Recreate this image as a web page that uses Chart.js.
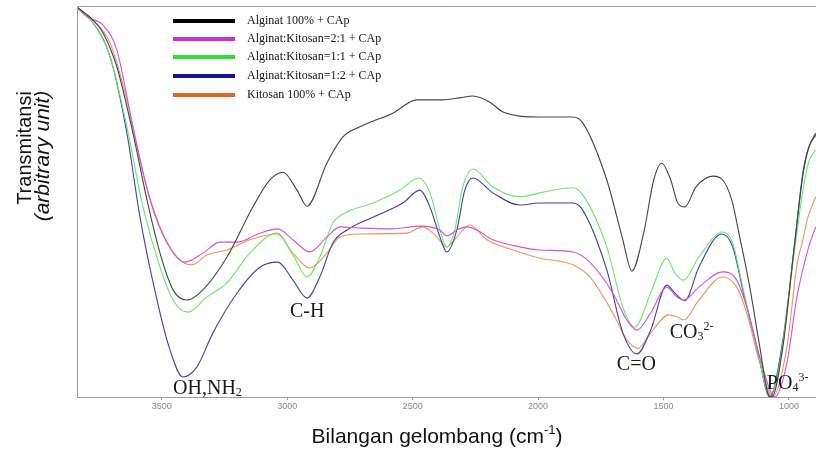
<!DOCTYPE html>
<html><head><meta charset="utf-8">
<script src="https://cdn.jsdelivr.net/npm/chart.js@4.4.1/dist/chart.umd.min.js"></script>
<style>html,body{margin:0;padding:0;background:#fff;overflow:hidden}</style>
</head><body>
<canvas id="c" width="816" height="449"></canvas>
<script>
// ---- data (wavenumber cm-1, transmittance arbitrary 0-100) ----
const seriesLabels = ['Alginat 100% + CAp','Alginat:Kitosan=2:1 + CAp','Alginat:Kitosan=1:1 + CAp','Alginat:Kitosan=1:2 + CAp','Kitosan 100% + CAp'];
const xTicks = [3500,3000,2500,2000,1500,1000];

const alginatX = [3838,3774,3734,3679,3615,3559,3507,3455,3400,3336,3240,3137,3069,3017,2961,2921,2842,2778,2710,2579,2483,2379,2312,2260,2192,2140,1993,1861,1822,1726,1662,1626,1579,1539,1507,1471,1443,1415,1371,1303,1264,1228,1196,1156,1116,1084,1068,1024,980,944,921,893];
const alginatY = [99.7,96.4,93.1,84.4,67.5,50.4,36.8,27.4,24.8,27.4,35.8,48.6,55.5,57.5,52.9,48.8,59.8,66.5,69.1,72.6,76.0,76.0,76.5,77.0,75.4,72.9,71.6,71.6,70.1,55.5,40.2,32.2,41.9,55.5,59.8,55.5,49.6,48.6,53.7,56.5,55.5,50.4,40.9,28.1,12.8,1.0,0,12.8,37.6,56.8,63.7,67.5];

const ak21X = [3838,3798,3734,3679,3615,3547,3479,3408,3336,3268,3200,3109,3037,2977,2910,2842,2790,2710,2579,2471,2391,2364,2324,2284,2244,2180,2073,1993,1861,1794,1702,1646,1606,1551,1487,1447,1419,1359,1264,1208,1168,1116,1056,1008,968,921,893];
const ak21Y = [99.7,97.2,95.1,88.7,69.1,50.4,39.4,34.5,36.8,39.6,39.6,41.9,43.0,40.2,37.1,40.9,43.5,43.2,43.0,43.7,42.7,41.2,42.7,43.5,42.7,40.2,38.4,37.6,37.1,34.5,26.6,19.7,17.1,21.5,28.1,25.6,24.8,28.1,32.0,29.9,23.0,10.2,0,8.7,25.6,38.4,43.5];

const ak11X = [3838,3774,3706,3639,3575,3507,3455,3396,3320,3240,3149,3041,2977,2921,2870,2818,2762,2658,2551,2475,2431,2391,2364,2332,2300,2260,2180,2073,1993,1861,1822,1726,1662,1614,1551,1487,1455,1419,1359,1264,1224,1184,1128,1076,1036,984,944,921,893];
const ak11Y = [99.7,95.7,87.0,69.1,48.6,33.2,24.8,21.7,25.6,29.2,36.8,41.9,36.3,30.7,35.8,44.5,47.3,49.6,52.9,56.0,52.2,42.7,38.4,42.7,53.7,58.3,53.7,51.2,52.2,53.5,51.7,38.4,23.0,17.9,26.6,35.5,31.7,29.9,35.8,42.2,39.4,28.1,12.8,0.5,8.7,34.3,52.9,60.1,63.2];

const ak12X = [3838,3774,3706,3639,3587,3519,3467,3416,3360,3296,3200,3109,3037,2977,2921,2870,2818,2762,2658,2539,2471,2431,2391,2364,2324,2292,2260,2180,2073,1993,1861,1822,1726,1662,1606,1551,1487,1455,1415,1359,1268,1224,1184,1128,1076,1024,980,944,921,893];
const ak12Y = [99.7,95.7,87.0,67.5,46.0,24.8,12.0,5.1,7.7,16.4,26.6,33.2,34.5,29.9,25.3,30.7,39.4,42.7,46.0,49.6,52.9,48.6,40.9,37.1,42.7,52.9,56.0,52.2,49.1,49.6,49.6,47.8,32.5,16.4,11.0,17.1,28.6,26.6,24.6,33.2,41.7,38.4,27.4,12.8,0,14.6,37.6,57.5,63.9,67.0];

const kitosanX = [3838,3774,3706,3639,3575,3507,3439,3380,3320,3240,3149,3041,2977,2910,2842,2790,2710,2523,2459,2403,2364,2324,2272,2204,2100,1993,1861,1794,1702,1646,1602,1551,1479,1447,1419,1359,1264,1208,1168,1116,1064,1008,968,944,925,893];
const kitosanY = [99.7,96.4,90.5,76.0,57.3,43.5,35.8,33.8,36.3,37.6,40.2,41.7,36.8,33.0,36.8,40.9,41.7,41.9,43.5,40.9,38.4,40.9,44.0,40.2,37.6,35.5,33.8,30.7,21.5,14.6,12.5,16.4,21.0,20.5,19.7,24.8,30.7,28.1,21.5,8.7,0,12.8,33.8,40.2,45.8,51.2];

const lineColors = ['#444444','#d452d4','#66e866','#4040aa','#ee9458'];
const legendColors = ['#000000','#cc33cc','#33dd33','#14149a','#e0652a'];

// ---- build ----
const xs = [alginatX, ak21X, ak11X, ak12X, kitosanX];
const ys = [alginatY, ak21Y, ak11Y, ak12Y, kitosanY];
const datasets = seriesLabels.map((lab,i)=>({
  label: lab,
  data: xs[i].map((x,j)=>({x:x, y:ys[i][j]})),
  borderColor: lineColors[i],
  borderWidth: 1.1,
  pointRadius: 0,
  fill: false,
  cubicInterpolationMode: 'monotone'
}));

const SERIF = '"Liberation Serif","Times New Roman",serif';
const SANS = '"Liberation Sans",Arial,sans-serif';

function drawChem(ctx, x, y, parts, size){
  let cx = x;
  parts.forEach(p=>{
    let fs = size, dy = 0;
    if (p.sub){ fs = Math.round(size*0.62); dy = 2; }
    if (p.sup){ fs = Math.round(size*0.62); dy = -8; }
    ctx.font = fs + 'px ' + SERIF;
    ctx.fillText(p.t, cx, y + dy);
    cx += ctx.measureText(p.t).width;
  });
}

const decor = {
  id: 'decor',
  afterDraw(chart){
    const ctx = chart.ctx, a = chart.chartArea;
    const sx = chart.scales.x, sy = chart.scales.y;
    ctx.save();
    // frame left/top
    ctx.strokeStyle = '#9a9a9a'; ctx.lineWidth = 1;
    ctx.beginPath();
    ctx.moveTo(a.left+0.5, a.bottom); ctx.lineTo(a.left+0.5, a.top+0.5); ctx.lineTo(a.right, a.top+0.5);
    ctx.stroke();

    // legend
    ctx.textAlign = 'left'; ctx.textBaseline = 'middle';
    ctx.font = '12px ' + SERIF; ctx.fillStyle = '#111';
    const rows = [21, 39, 57, 76, 95];
    chart.data.datasets.forEach((d,i)=>{
      ctx.strokeStyle = legendColors[i]; ctx.lineWidth = 4;
      ctx.beginPath(); ctx.moveTo(173, rows[i]); ctx.lineTo(235, rows[i]); ctx.stroke();
      ctx.fillText(d.label, 247, rows[i]);
    });

    // peak annotations (anchored to data coordinates)
    ctx.textBaseline = 'alphabetic'; ctx.fillStyle = '#1a1a1a';
    const notes = [
      {x:3455, y:0.8,  parts:[{t:'OH,NH'},{t:'2',sub:true}]},
      {x:2989, y:20.5, parts:[{t:'C-H'}]},
      {x:1686, y:6.9,  parts:[{t:'C=O'}]},
      {x:1475, y:15.1, parts:[{t:'CO'},{t:'3',sub:true},{t:'2-',sup:true}]},
      {x:1088, y:2.0,  parts:[{t:'PO'},{t:'4',sub:true},{t:'3-',sup:true}]}
    ];
    notes.forEach(n=> drawChem(ctx, sx.getPixelForValue(n.x), sy.getPixelForValue(n.y), n.parts, 20));

    // x title
    ctx.fillStyle = '#111';
    ctx.font = '21px ' + SANS;
    const t1 = 'Bilangan gelombang (cm', t2 = '-1', t3 = ')';
    const w1 = ctx.measureText(t1).width, w3 = ctx.measureText(t3).width;
    ctx.font = '13px ' + SANS; const w2 = ctx.measureText(t2).width;
    let tx = 437 - (w1+w2+w3)/2;
    ctx.font = '21px ' + SANS; ctx.fillText(t1, tx, 443); tx += w1;
    ctx.font = '13px ' + SANS; ctx.fillText(t2, tx, 434); tx += w2;
    ctx.font = '21px ' + SANS; ctx.fillText(t3, tx, 443);

    // y title
    ctx.textAlign = 'center'; ctx.textBaseline = 'middle';
    ctx.save(); ctx.translate(25, 148); ctx.rotate(-Math.PI/2);
    ctx.font = '20px ' + SANS; ctx.fillText('Transmitansi', 0, 0); ctx.restore();
    ctx.save(); ctx.translate(43, 156); ctx.rotate(-Math.PI/2);
    ctx.font = 'italic 21px ' + SANS; ctx.fillText('(arbitrary unit)', 0, 0); ctx.restore();
    ctx.restore();
  }
};

new Chart(document.getElementById('c'), {
  type: 'line',
  data: { datasets },
  options: {
    responsive: false, animation: false, devicePixelRatio: 1,
    layout: { padding: { left: 77, top: 6, right: 0, bottom: 0 } },
    plugins: { legend: { display: false }, tooltip: { enabled: false } },
    scales: {
      x: {
        type: 'linear', reverse: true, min: 892, max: 3838,
        afterBuildTicks: s => { s.ticks = xTicks.map(v => ({ value: v })); },
        afterFit: s => { s.height = 52; },
        grid: { display: true, drawOnChartArea: false, drawTicks: true, tickLength: 3, color: '#9a9a9a' },
        border: { display: true, color: '#9a9a9a', width: 1 },
        ticks: { autoSkip: false, maxRotation: 0, padding: 1, color: '#8a8a8a',
                 callback: v => String(v),
                 font: { size: 9, family: '"Liberation Sans Narrow","Liberation Sans",Arial' } }
      },
      y: { display: false, min: 0, max: 100 }
    }
  },
  plugins: [decor]
});
</script>
</body></html>
